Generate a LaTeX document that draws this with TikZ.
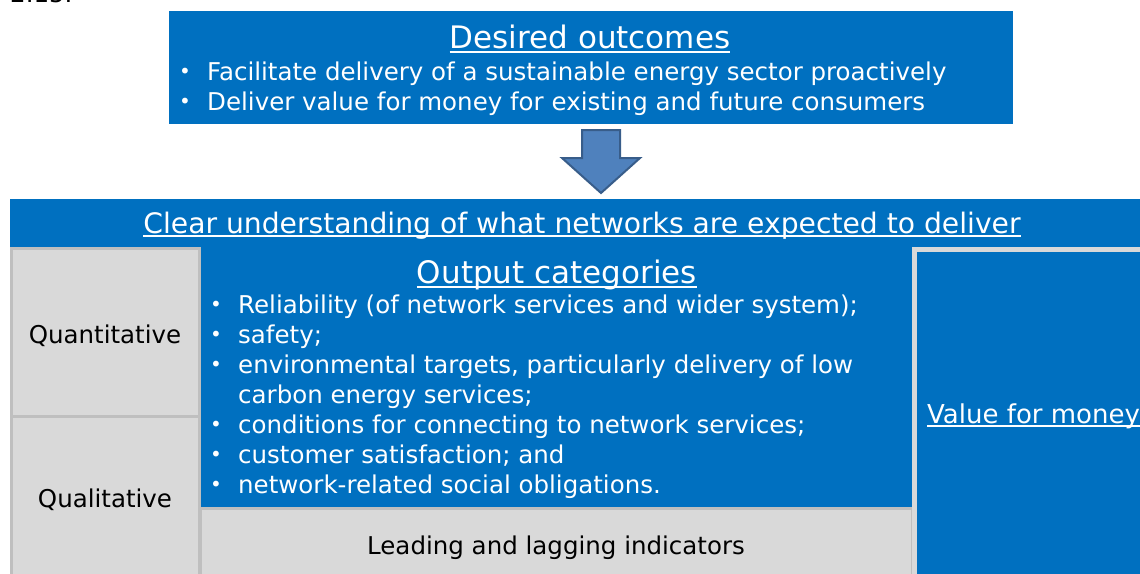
\documentclass[tikz,border=0pt]{standalone}
\usepackage{fontspec}
\setmainfont{DejaVu Sans}
\usetikzlibrary{positioning}

\definecolor{oblue}{HTML}{0070C0}
\definecolor{pgray}{HTML}{D9D9D9}
\definecolor{egray}{HTML}{BFBFBF}
\definecolor{afill}{HTML}{4F81BD}
\definecolor{aedge}{HTML}{385D8A}

% text with a drawn underline in the current colour
\newcommand\ulin[1]{\setbox0=\hbox{#1}\rlap{\rule[-0.15em]{\wd0}{0.065em}}\box0}
% hanging bullet placed left of the item text
\newcommand\bul{\makebox[0pt][l]{\hspace*{-28pt}\raisebox{1.5pt}{\fontsize{20}{20}\selectfont\textbullet}}}

\begin{document}
\begin{tikzpicture}[x=1pt,y=-1pt,
  panel/.style={draw=none,fill=oblue,inner sep=0pt,anchor=north west},
  greybox/.style={fill=pgray,draw=egray,line width=3pt},
  heading/.style={text=white,inner sep=0pt,anchor=base,font=\fontsize{31}{36}\selectfont},
  bodyw/.style={text=white,inner sep=0pt,anchor=base west,font=\fontsize{24.5}{30}\selectfont},
  bodyk/.style={text=black,inner sep=0pt,anchor=base,font=\fontsize{24.5}{30}\selectfont},
]
\useasboundingbox (0,0) rectangle (1140,573);

% section number running off the top edge
\node[bodyk,anchor=base west] (secno) at (10,2) {2.15.};

% desired outcomes
\node[panel,minimum width=844pt,minimum height=113pt] (outcomes) at (169,11) {};
\node[heading] (outh) at (590,48) {\ulin{Desired outcomes}};
\node[bodyw] (out1) at (207,80) {\bul Facilitate delivery of a sustainable energy sector proactively};
\node[bodyw] (out2) at (207,110) {\bul Deliver value for money for existing and future consumers};

% block arrow down
\draw[fill=afill,draw=aedge,line width=2pt,line join=miter]
  (582,130) -- (620,130) -- (620,158) -- (640,158) -- (601,193)
  -- (562,158) -- (582,158) -- cycle;

% main band
\node[panel,minimum width=1140pt,minimum height=380pt] (band) at (10,199) {};
\node[heading,font=\fontsize{28.2}{34}\selectfont] (bandh) at (582,233)
  {\ulin{Clear understanding of what networks are expected to deliver}};

% left column
\path[greybox] (11.5,248.5) rectangle (199.5,416);
\path[greybox] (11.5,416) rectangle (199.5,580);
\node[bodyk] (quant) at (105,343) {Quantitative};
\node[bodyk] (qual) at (105,507) {Qualitative};

% output categories
\node[heading] (cath) at (557,283) {\ulin{Output categories}};
\foreach \txt [count=\i] in {
  {\bul Reliability (of network services and wider system);},
  {\bul safety;},
  {\bul environmental targets, particularly delivery of low},
  {carbon energy services;},
  {\bul conditions for connecting to network services;},
  {\bul customer satisfaction; and},
  {\bul network-related social obligations.}}
  \node[bodyw] (cat\i) at (238,{313+30*(\i-1)}) {\txt};

% indicators strip
\path[greybox] (200.5,508.5) rectangle (912,580);
\node[bodyk] (lead) at (556,554) {Leading and lagging indicators};

% value for money
\path[fill=oblue,draw=pgray,line width=5pt] (914,249.5) rectangle (1150,580);
\node[bodyw,font=\fontsize{26}{30}\selectfont] (vfm) at (927,423) {\ulin{Value for money}};
\end{tikzpicture}
\end{document}
